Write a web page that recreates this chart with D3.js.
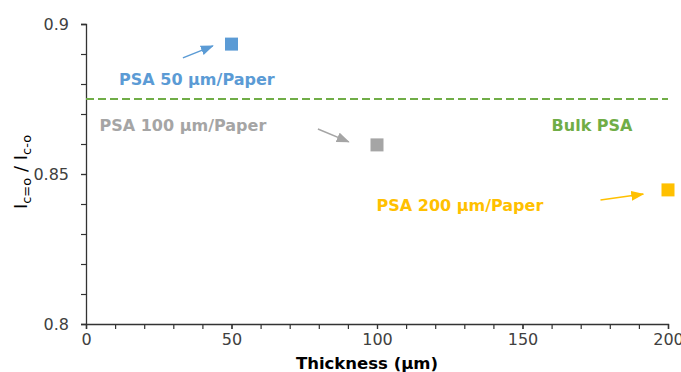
<!DOCTYPE html>
<html><head><meta charset="utf-8">
<script src="https://cdn.jsdelivr.net/npm/d3@7"></script>
<style>body{margin:0;background:#fff;} text{font-family:"DejaVu Sans",sans-serif;}</style>
</head><body><svg id="c" width="681" height="372"></svg>
<script>
const categories = ["PSA 50 µm/Paper","PSA 100 µm/Paper","PSA 200 µm/Paper"];
const thickness = [50,100,200];
const ratio = [0.8933,0.8597,0.8447];
const colors = ["#5B9BD5","#A5A5A5","#FFC000"];
const bulkValue = 0.875;
const bulkLabel = "Bulk PSA";
const xTicks = [0,50,100,150,200];
const yTicks = [0.8,0.85,0.9];
const labelX = [38.1,33.3,128.5];
const labelY = [0.8817,0.8663,0.8397];
const bulkLabelPos = [173.9,0.8663];
const arrowFrom = [[33.3,0.8887],[79.7,0.8650],[176.8,0.8413]];
const arrowTo = [[43.6,0.8927],[90.3,0.8607],[191.5,0.8433]];

const svg = d3.select("#c");
const x = d3.scaleLinear().domain([0,200]).range([86,668]);
const y = d3.scaleLinear().domain([0.8,0.9]).range([324,24]);

const defs = svg.append("defs");
colors.forEach((c,i)=>{
  defs.append("marker").attr("id","ar"+i).attr("viewBox","0 0 13 10").attr("refX",12).attr("refY",5)
   .attr("markerWidth",13).attr("markerHeight",10).attr("markerUnits","userSpaceOnUse").attr("orient","auto")
   .append("path").attr("d","M0,0L13,5L0,10z").attr("fill",c);
});

svg.append("g").attr("transform","translate(86,0)")
  .call(d3.axisLeft(y).tickValues(d3.range(0,11).map(i=>0.8+i*0.01)).tickSize(5).tickFormat(()=>""));
const gyl = svg.append("g").attr("transform","translate(86,0)")
  .call(d3.axisLeft(y).tickValues(yTicks).tickSize(5).tickPadding(12).tickFormat(d=>d3.format(".2~f")(d)));
gyl.select(".domain").remove();
svg.append("g").attr("transform","translate(0,324)")
  .call(d3.axisBottom(x).tickValues(d3.range(0,21).map(i=>i*10)).tickSize(5).tickFormat(()=>""));
const gxl = svg.append("g").attr("transform","translate(0,324)")
  .call(d3.axisBottom(x).tickValues(xTicks).tickSize(5).tickPadding(5).tickFormat(d3.format("d")));
gxl.select(".domain").remove();
svg.selectAll(".domain").attr("stroke","#333").attr("stroke-width",1.3);
svg.selectAll(".tick line").attr("stroke","#333").attr("stroke-width",1.2);
svg.selectAll(".tick text").attr("font-size",16).attr("fill","#404040").attr("font-family","DejaVu Sans, sans-serif");

svg.append("line").attr("x1",x(0)).attr("x2",x(200)).attr("y1",y(bulkValue)).attr("y2",y(bulkValue))
  .attr("stroke","#70AD47").attr("stroke-width",2.2).attr("stroke-dasharray","8,4");
svg.append("text").attr("x",x(bulkLabelPos[0])).attr("y",y(bulkLabelPos[1])).attr("dy","0.36em")
  .attr("text-anchor","middle").attr("font-weight","bold").attr("font-size",16).attr("fill","#70AD47").text(bulkLabel);

svg.selectAll("rect.pt").data(thickness).join("rect").attr("class","pt")
  .attr("x",(d)=>x(d)-6.5).attr("y",(d,i)=>y(ratio[i])-6.5).attr("width",13).attr("height",13)
  .attr("fill",(d,i)=>colors[i]);

svg.selectAll("text.lab").data(categories).join("text").attr("class","lab")
  .attr("x",(d,i)=>x(labelX[i])).attr("y",(d,i)=>y(labelY[i])).attr("dy","0.36em")
  .attr("text-anchor","middle").attr("font-weight","bold").attr("font-size",16)
  .attr("fill",(d,i)=>colors[i]).text(d=>d);

svg.selectAll("line.arr").data(arrowFrom).join("line").attr("class","arr")
  .attr("x1",d=>x(d[0])).attr("y1",d=>y(d[1]))
  .attr("x2",(d,i)=>x(arrowTo[i][0])).attr("y2",(d,i)=>y(arrowTo[i][1]))
  .attr("stroke",(d,i)=>colors[i]).attr("stroke-width",1.5).attr("marker-end",(d,i)=>`url(#ar${i})`);

svg.append("text").attr("x",367).attr("y",369).attr("text-anchor","middle")
  .attr("font-weight","bold").attr("font-size",16.5).attr("fill","#000").text("Thickness (µm)");
const yt = svg.append("text").attr("transform","translate(27,172) rotate(-90)").attr("text-anchor","middle")
  .attr("font-size",18).attr("fill","#000");
yt.append("tspan").text("I");
yt.append("tspan").attr("font-size",13).attr("dy",4).text("c=o");
yt.append("tspan").attr("dy",-4).text(" / I");
yt.append("tspan").attr("font-size",13).attr("dy",4).text("c-o");
</script></body></html>
